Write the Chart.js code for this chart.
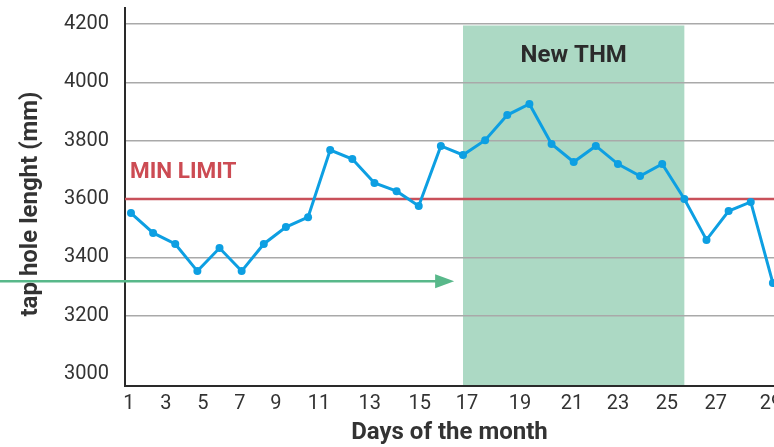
<!DOCTYPE html>
<html>
<head>
<meta charset="utf-8">
<script src="https://cdn.jsdelivr.net/npm/chart.js@4/dist/chart.umd.min.js"></script>
<style>
  html, body { margin: 0; padding: 0; background: #ffffff; }
  #wrap { width: 774px; height: 447px; }
</style>
</head>
<body>
<div id="wrap"><canvas id="c" width="774" height="447"></canvas></div>
<script>
// ---- data ----
const days = [1,2,3,4,5,6,7,8,9,10,11,12,13,14,15,16,17,18,19,20,21,22,23,24,25,26,27,28,29,30];
const tapHoleLength = [3552,3484,3446,3353,3432,3353,3446,3504,3538,3768,3737,3655,3627,3576,3782,3751,3802,3888,3926,3789,3727,3782,3720,3679,3720,3600,3460,3559,3590,3312];
const xTickLabels = ['1','3','5','7','9','11','13','15','17','19','21','23','25','27','29'];
const xTickAt = [0.91,2.58,4.25,5.92,7.55,9.49,11.79,14.05,16.18,18.57,20.92,23.0,25.21,27.42,29.91];
const yTicks = [3000,3200,3400,3600,3800,4000,4200];
const yTitle = 'tap hole lenght (mm)';
const xTitle = 'Days of the month';
const minLimit = 3600;
const minLimitLabel = 'MIN LIMIT';
const thmStart = 16, thmEnd = 26, thmTop = 4195;
const thmLabel = 'New THM';
const arrowValue = 3318, arrowEndDay = 15.6;

const FONT = 'Roboto, "Noto Sans", "DejaVu Sans", sans-serif';

const overlay = {
  id: 'overlay',
  beforeDraw(chart) {
    const {ctx, chartArea, scales: {x, y}} = chart;
    const x0 = x.getPixelForValue(thmStart), x1 = x.getPixelForValue(thmEnd);
    const yt = y.getPixelForValue(thmTop);
    ctx.save();
    ctx.fillStyle = '#acd9c4';
    ctx.fillRect(x0, yt, x1 - x0, chartArea.bottom - yt);
    ctx.restore();
  },
  beforeDatasetsDraw(chart) {
    const {ctx, chartArea, scales: {x, y}} = chart;
    ctx.save();
    // y axis title
    ctx.save();
    ctx.translate(31, (chartArea.top + chartArea.bottom) / 2 + 7);
    ctx.rotate(-Math.PI / 2);
    ctx.font = 'bold 24px ' + FONT;
    ctx.fillStyle = '#333333';
    ctx.textAlign = 'center';
    ctx.textBaseline = 'middle';
    ctx.fillText(yTitle, 0, 0);
    ctx.restore();
    // New THM label
    const x0 = x.getPixelForValue(thmStart), x1 = x.getPixelForValue(thmEnd);
    const yt = y.getPixelForValue(thmTop);
    ctx.font = 'bold 24px ' + FONT;
    ctx.fillStyle = '#2b2b2b';
    ctx.textAlign = 'center';
    ctx.textBaseline = 'alphabetic';
    ctx.fillText(thmLabel, (x0 + x1) / 2, yt + 36);
    // min limit line + label
    const ym = y.getPixelForValue(minLimit);
    ctx.strokeStyle = '#c8505a';
    ctx.lineWidth = 2.5;
    ctx.beginPath();
    ctx.moveTo(chartArea.left, ym);
    ctx.lineTo(chartArea.right, ym);
    ctx.stroke();
    ctx.font = 'bold 22.5px ' + FONT;
    ctx.fillStyle = '#cc4b53';
    ctx.textAlign = 'left';
    ctx.fillText(minLimitLabel, chartArea.left + 5, ym - 21);
    // arrow
    const ya = y.getPixelForValue(arrowValue);
    const xe = x.getPixelForValue(arrowEndDay);
    ctx.strokeStyle = '#58b88a';
    ctx.fillStyle = '#58b88a';
    ctx.lineWidth = 2.5;
    ctx.beginPath();
    ctx.moveTo(0, ya);
    ctx.lineTo(xe - 16, ya);
    ctx.stroke();
    ctx.beginPath();
    ctx.moveTo(xe, ya);
    ctx.lineTo(xe - 19, ya - 7);
    ctx.lineTo(xe - 19, ya + 7);
    ctx.closePath();
    ctx.fill();
    ctx.restore();
  }
};

new Chart(document.getElementById('c'), {
  type: 'line',
  data: {
    datasets: [{
      data: days.map((d, i) => ({x: d, y: tapHoleLength[i]})),
      borderColor: '#0d9fe2',
      backgroundColor: '#0d9fe2',
      borderWidth: 3,
      pointRadius: 4,
      pointBorderWidth: 0,
      pointBackgroundColor: '#0d9fe2',
      tension: 0,
      fill: false
    }]
  },
  options: {
    responsive: false,
    devicePixelRatio: 1,
    animation: false,
    layout: { autoPadding: false, padding: { top: 8, right: 0, left: 0, bottom: 0 } },
    plugins: { legend: { display: false }, tooltip: { enabled: false } },
    scales: {
      x: {
        type: 'linear',
        min: 0.73,
        max: 30.05,
        afterBuildTicks: (s) => { s.ticks = xTickAt.map(v => ({value: v})); },
        afterFit: (s) => { s.height = 61; s.paddingLeft = 0; s.paddingRight = 0; },
        grid: { display: false, drawTicks: false },
        border: { display: true, color: '#2a2a2a', width: 2 },
        ticks: {
          autoSkip: false, maxRotation: 0, padding: 6,
          color: '#333333',
          font: { family: FONT, size: 20 },
          callback: (v, i) => xTickLabels[i]
        },
        title: {
          display: true, text: xTitle, color: '#333333',
          font: { family: FONT, size: 24, weight: 'bold' },
          padding: { top: 0, bottom: 0 }
        }
      },
      y: {
        type: 'linear',
        min: 2959,
        max: 4255,
        afterBuildTicks: (s) => { s.ticks = yTicks.map(v => ({value: v})); },
        afterFit: (s) => { s.width = 125; s.paddingTop = 0; s.paddingBottom = 0; },
        grid: {
          drawTicks: false,
          lineWidth: 1.5,
          color: (ctx) => (ctx.tick && ctx.tick.value === 3000) ? 'rgba(0,0,0,0)' : '#a9a9a9'
        },
        border: { display: true, color: '#2a2a2a', width: 2 },
        ticks: {
          padding: 16,
          color: '#333333',
          font: { family: FONT, size: 20 },
          callback: (v) => String(v)
        },
        title: { display: false }
      }
    }
  },
  plugins: [overlay]
});
</script>
</body>
</html>
